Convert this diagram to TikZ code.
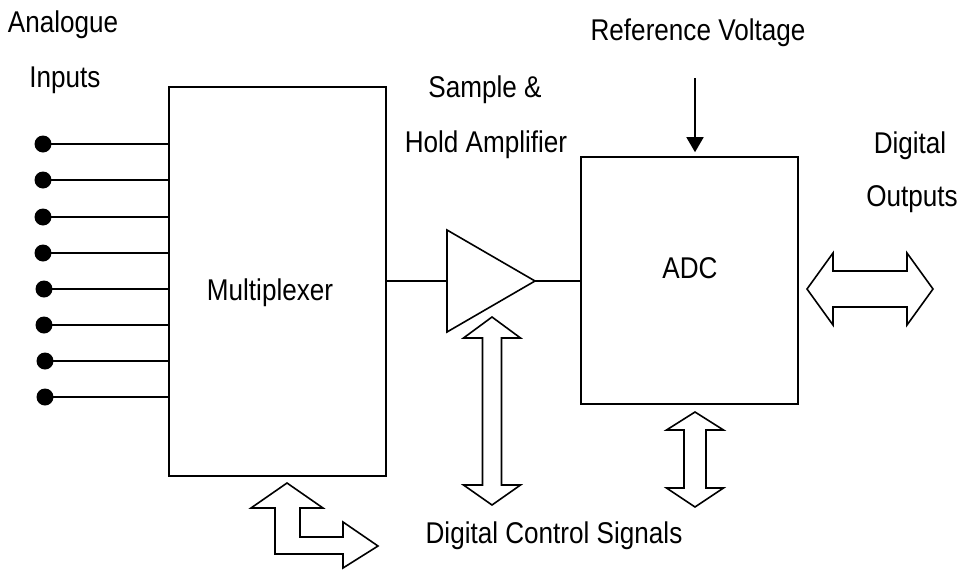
\documentclass[tikz,border=0pt]{standalone}
\usepackage{fontspec}
\setmainfont[FakeStretch=0.87]{Liberation Sans}
\usetikzlibrary{arrows.meta}
\begin{document}
\begin{tikzpicture}[x=1pt,y=-1pt,
  line width=1.6pt, line join=miter,
  lbl/.style={anchor=base, inner sep=0pt, font=\fontsize{30}{30}\selectfont},
  blk/.style={draw, rectangle, inner sep=0pt},
  dot/.style={circle, fill=black, inner sep=0pt, minimum size=17pt},
  bus/.style={draw, fill=white}]
\useasboundingbox (0,0) rectangle (957,570);
% blocks
\node[blk, minimum width=217pt, minimum height=389pt] (mux) at (277.5,281.5) {};
\node[blk, minimum width=217pt, minimum height=247pt] (adc) at (689.5,280.5) {};
\node[lbl] (muxt) at (270,300) {Multiplexer};
\node[lbl] (adct) at (690,278) {ADC};
% amplifier
\coordinate (ampa) at (447,230);
\coordinate (ampb) at (447,332);
\coordinate (amptip) at (535,281);
\coordinate (ampin) at (447,281);
\draw (ampa) -- (amptip) -- (ampb) -- cycle;
\draw (mux.east |- ampin) -- (ampin);
\draw (amptip) -- (amptip -| adc.west);
% inputs
\foreach \i/\x/\y in {1/43/144,2/43/180,3/43/217,4/43/253,5/44/289,6/44/325,7/45/361,8/45/397}{
  \node[dot] (in\i) at (\x,\y) {};
  \draw (in\i.center) -- (in\i.center -| mux.west);
}
% labels
\node[lbl] (ana) at (63,32) {Analogue};
\node[lbl] (inp) at (65,87) {Inputs};
\node[lbl] (sh1) at (485,97) {Sample \&};
\node[lbl] (sh2) at (486,152) {Hold Amplifier};
\node[lbl] (refv) at (698,40) {Reference Voltage};
\node[lbl] (dig1) at (910,153) {Digital};
\node[lbl] (dig2) at (912,206) {Outputs};
\node[lbl] (dcs) at (554,543) {Digital Control Signals};
% reference voltage arrow
\coordinate (reftop) at (695,78);
\draw[-{Triangle[width=17pt,length=15pt]}, shorten >=4pt] (reftop) -- (reftop |- adc.north);
% amplifier control bus
\draw[bus] (492,317) -- (520.5,338) -- (501.5,338) -- (501.5,485) -- (520.5,485)
  -- (492,505) -- (463.5,485) -- (482.5,485) -- (482.5,338) -- (463.5,338) -- cycle;
% ADC control bus
\draw[bus] (695,412) -- (723.5,430) -- (706,430) -- (706,488) -- (723.5,488)
  -- (695,507) -- (666.5,488) -- (684,488) -- (684,430) -- (666.5,430) -- cycle;
% digital outputs bus
\draw[bus] (807,289) -- (833,253) -- (833,271) -- (907,271) -- (907,253)
  -- (933,289) -- (907,325) -- (907,307) -- (833,307) -- (833,325) -- cycle;
% multiplexer bent bus
\draw[bus] (287,483) -- (323,508) -- (300,508) -- (300,537) -- (343,537) -- (343,522)
  -- (378,546) -- (343,568) -- (343,554) -- (275,554) -- (275,508) -- (251,508) -- cycle;
\end{tikzpicture}
\end{document}
